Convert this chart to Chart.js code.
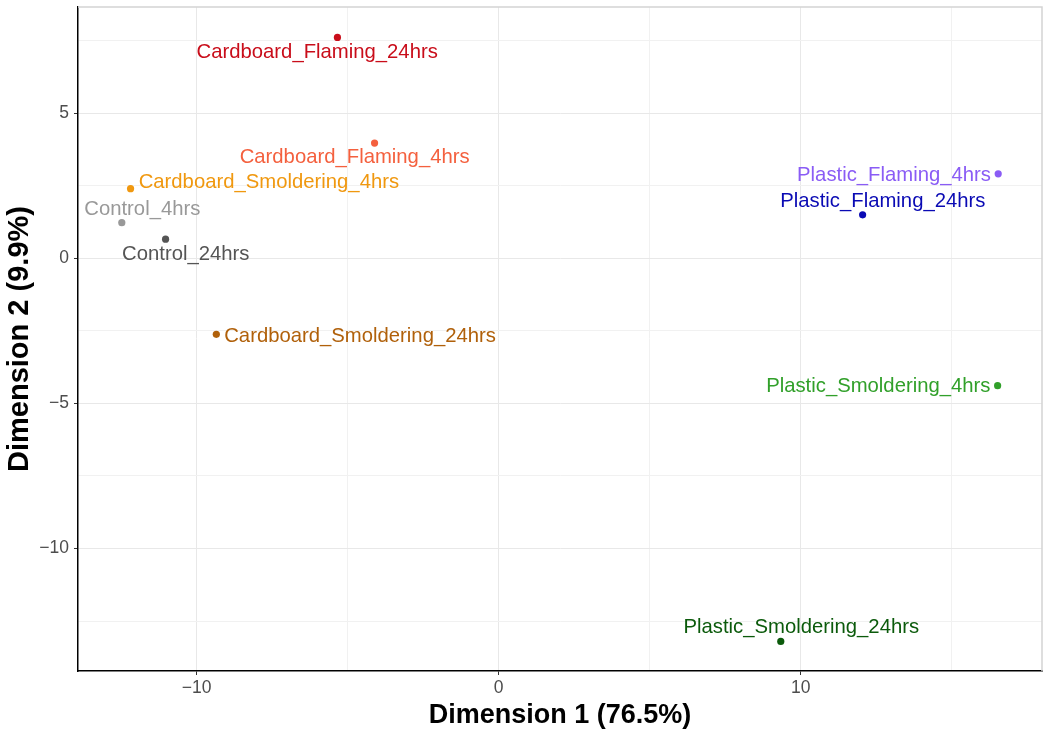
<!DOCTYPE html>
<html>
<head>
<meta charset="utf-8">
<script src="https://cdn.jsdelivr.net/npm/chart.js@4"></script>
<style>
  html, body { margin: 0; padding: 0; background: #fff; }
  #chart { display: block; }
</style>
</head>
<body>
<canvas id="chart" width="1050" height="733"></canvas>
<script>
// MDS plot data
const sampleNames = [
  'Cardboard_Flaming_24hrs', 'Cardboard_Flaming_4hrs', 'Cardboard_Smoldering_4hrs',
  'Control_4hrs', 'Control_24hrs', 'Cardboard_Smoldering_24hrs',
  'Plastic_Flaming_4hrs', 'Plastic_Flaming_24hrs', 'Plastic_Smoldering_4hrs',
  'Plastic_Smoldering_24hrs'
];
const dim1 = [-5.34, -4.11, -12.19, -12.48, -11.03, -9.35, 16.54, 12.05, 16.52, 9.34];
const dim2 = [7.61, 3.97, 2.40, 1.23, 0.66, -2.62, 2.91, 1.50, -4.39, -13.20];
// where the repelled labels sit (data units)
const labelX = [-6.01, -4.77, -7.61, -11.80, -10.36, -4.59, 13.09, 12.72, 12.57, 10.02];
const labelY = [7.10, 3.46, 2.60, 1.68, 0.15, -2.68, 2.87, 1.96, -4.40, -12.71];
const sampleColors = [
  '#c90d1a', '#f4603e', '#f0980f', '#999999', '#555555',
  '#b0600a', '#8a5cf5', '#0a0ab4', '#31a02a', '#0b5a0b'
];
const xTicks = [-10, -5, 0, 5, 10, 15];
const yTicks = [-12.5, -10, -7.5, -5, -2.5, 0, 2.5, 5, 7.5];

const FONT = '"Liberation Sans", Arial, Helvetica, sans-serif';

const fmt = v => (v < 0 ? '\u2212' + Math.abs(v) : String(v));
const isMajorX = v => v % 10 === 0;
const isMajorY = v => v % 5 === 0;

const points = dim1.map((x, i) => ({ x: x, y: dim2[i] }));

// labels next to the points
const labelPlugin = {
  id: 'pointLabels',
  afterDatasetsDraw(chart) {
    const { ctx, scales: { x, y } } = chart;
    ctx.save();
    ctx.font = '20.3px ' + FONT;
    ctx.textAlign = 'center';
    ctx.textBaseline = 'middle';
    sampleNames.forEach((name, i) => {
      ctx.fillStyle = sampleColors[i];
      ctx.fillText(name, x.getPixelForValue(labelX[i]), y.getPixelForValue(labelY[i]));
    });
    ctx.restore();
  },
  afterDraw(chart) {
    // light frame on top and right
    const { ctx, chartArea: a } = chart;
    ctx.save();
    ctx.strokeStyle = '#d4d4d4';
    ctx.lineWidth = 1.5;
    ctx.beginPath();
    ctx.moveTo(a.left, a.top);
    ctx.lineTo(a.right, a.top);
    ctx.lineTo(a.right, a.bottom);
    ctx.stroke();
    ctx.restore();
  }
};

new Chart(document.getElementById('chart'), {
  type: 'scatter',
  data: {
    datasets: [{
      data: points,
      pointRadius: 3.6,
      pointHoverRadius: 3.6,
      pointBorderWidth: 0,
      pointBackgroundColor: sampleColors,
      pointBorderColor: sampleColors
    }]
  },
  options: {
    responsive: false,
    animation: false,
    layout: { padding: { top: 7, right: 8, left: 0, bottom: 0 } },
    plugins: { legend: { display: false }, tooltip: { enabled: false } },
    scales: {
      x: {
        type: 'linear',
        min: -13.93,
        max: 17.99,
        afterBuildTicks: s => { s.ticks = xTicks.map(v => ({ value: v })); },
        afterFit: s => { s.height = 62; s.paddingLeft = 0; s.paddingRight = 0; },
        grid: {
          color: c => isMajorX(c.tick.value) ? '#e8e8e8' : '#f1f1f1',
          tickColor: c => isMajorX(c.tick.value) ? '#333333' : 'rgba(0,0,0,0)',
          tickLength: 4,
          lineWidth: 1
        },
        border: { display: true, color: '#000', width: 1.5 },
        ticks: {
          autoSkip: false,
          maxRotation: 0,
          padding: 3,
          color: '#4d4d4d',
          font: { family: FONT, size: 17.5 },
          callback: v => isMajorX(v) ? fmt(v) : ''
        },
        title: {
          display: true,
          text: 'Dimension 1 (76.5%)',
          color: '#000',
          font: { family: FONT, size: 27, weight: 'bold' },
          padding: { top: 0, bottom: 1.5 }
        }
      },
      y: {
        type: 'linear',
        min: -14.22,
        max: 8.66,
        afterBuildTicks: s => { s.ticks = yTicks.map(v => ({ value: v })); },
        afterFit: s => { s.width = 78; s.paddingTop = 0; s.paddingBottom = 0; },
        grid: {
          color: c => isMajorY(c.tick.value) ? '#e8e8e8' : '#f1f1f1',
          tickColor: c => isMajorY(c.tick.value) ? '#333333' : 'rgba(0,0,0,0)',
          tickLength: 4,
          lineWidth: 1
        },
        border: { display: true, color: '#000', width: 1.5 },
        ticks: {
          autoSkip: false,
          padding: 5,
          color: '#4d4d4d',
          font: { family: FONT, size: 17.5 },
          callback: v => isMajorY(v) ? fmt(v) : ''
        },
        title: {
          display: true,
          text: 'Dimension 2 (9.9%)',
          color: '#000',
          font: { family: FONT, size: 29, weight: 'bold' },
          padding: { top: 3, bottom: 0 }
        }
      }
    }
  },
  plugins: [labelPlugin]
});
</script>
</body>
</html>
